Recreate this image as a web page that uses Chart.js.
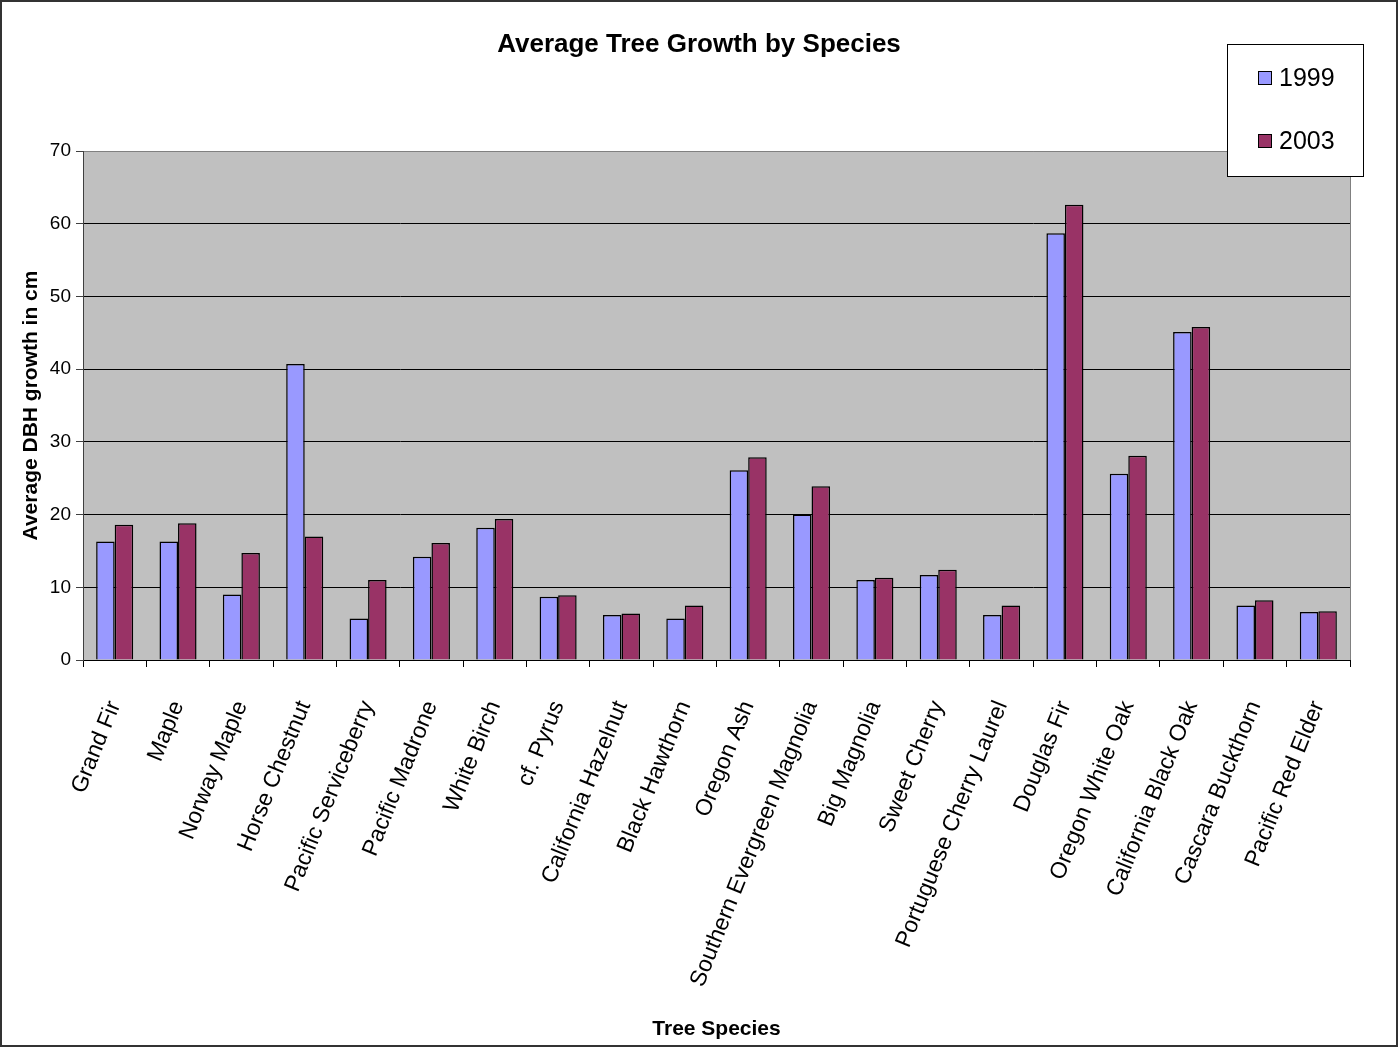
<!DOCTYPE html>
<html>
<head>
<meta charset="utf-8">
<title>Average Tree Growth by Species</title>
<script src="https://cdn.jsdelivr.net/npm/chart.js@4"></script>
<style>
    html, body { margin: 0; padding: 0; background: #fff; }
    #chart-wrap { width: 1398px; height: 1047px; }
</style>
</head>
<body>
<div id="chart-wrap">
    <canvas id="growth-chart" width="1398" height="1047"></canvas>
</div>
<script>
// Chart data
const species = [
    'Grand Fir', 'Maple', 'Norway Maple', 'Horse Chestnut', 'Pacific Serviceberry',
    'Pacific Madrone', 'White Birch', 'cf. Pyrus', 'California Hazelnut', 'Black Hawthorn',
    'Oregon Ash', 'Southern Evergreen Magnolia', 'Big Magnolia', 'Sweet Cherry',
    'Portuguese Cherry Laurel', 'Douglas Fir', 'Oregon White Oak', 'California Black Oak',
    'Cascara Buckthorn', 'Pacific Red Elder'
];
const growth1999 = [16.3, 16.3, 9.0, 40.7, 5.7, 14.2, 18.2, 8.7, 6.2, 5.7,
    26.1, 20.0, 11.0, 11.7, 6.2, 58.7, 25.6, 45.1, 7.5, 6.6];
const growth2003 = [18.6, 18.8, 14.7, 17.0, 11.0, 16.1, 19.4, 8.9, 6.4, 7.5,
    27.9, 23.9, 11.3, 12.4, 7.5, 62.6, 28.1, 45.8, 8.2, 6.7];
const seriesLabels = ['1999', '2003'];
const seriesColors = ['#9999FF', '#993366'];
const yTicks = [0, 10, 20, 30, 40, 50, 60, 70];
const chartTitle = 'Average Tree Growth by Species';

const FONT = 'Arial, "Liberation Sans", sans-serif';

// Grey plot area, outer frame and the title (centred on the whole image)
const backgroundPlugin = {
    id: 'plotBackground',
    beforeDraw(chart) {
        const { ctx, chartArea } = chart;
        ctx.save();
        ctx.fillStyle = '#fff';
        ctx.fillRect(0, 0, chart.width, chart.height);
        ctx.fillStyle = '#C0C0C0';
        ctx.fillRect(chartArea.left, chartArea.top, chartArea.right - chartArea.left, chartArea.bottom - chartArea.top);
        ctx.strokeStyle = '#808080';
        ctx.lineWidth = 1;
        ctx.beginPath();
        ctx.moveTo(chartArea.left, chartArea.top + 0.5);
        ctx.lineTo(chartArea.right + 0.5, chartArea.top + 0.5);
        ctx.lineTo(chartArea.right + 0.5, chartArea.bottom);
        ctx.stroke();
        ctx.restore();
    },
    afterDraw(chart) {
        const { ctx } = chart;
        ctx.save();
        ctx.fillStyle = '#000';
        ctx.font = 'bold 26px ' + FONT;
        ctx.textAlign = 'center';
        ctx.textBaseline = 'middle';
        ctx.fillText(chartTitle, chart.width / 2, 45);
        ctx.strokeStyle = '#333';
        ctx.lineWidth = 2;
        ctx.strokeRect(1, 1, chart.width - 2, chart.height - 2);
        ctx.restore();
    }
};

// Boxed legend sitting over the top right corner of the plot
const boxLegendPlugin = {
    id: 'boxLegend',
    afterDraw(chart) {
        const { ctx, chartArea } = chart;
        const x = chartArea.right - 123;
        const y = chartArea.top - 107;
        const w = 136, h = 132;
        ctx.save();
        ctx.fillStyle = '#fff';
        ctx.fillRect(x, y, w, h);
        ctx.strokeStyle = '#000';
        ctx.lineWidth = 1;
        ctx.strokeRect(x + 0.5, y + 0.5, w, h);
        ctx.font = '25px ' + FONT;
        ctx.textBaseline = 'middle';
        chart.data.datasets.forEach((ds, i) => {
            const cy = y + 34 + i * 63;
            ctx.fillStyle = ds.backgroundColor;
            ctx.fillRect(x + 31, cy - 7, 13, 13);
            ctx.strokeStyle = '#000';
            ctx.strokeRect(x + 31.5, cy - 6.5, 13, 13);
            ctx.fillStyle = '#000';
            ctx.fillText(ds.label, x + 52, cy + 1);
        });
        ctx.restore();
    }
};

const ctx = document.getElementById('growth-chart').getContext('2d');

const growthChart = new Chart(ctx, {
    type: 'bar',
    data: {
        labels: species,
        datasets: [growth1999, growth2003].map((values, i) => ({
            label: seriesLabels[i],
            data: values,
            backgroundColor: seriesColors[i],
            borderColor: '#000',
            borderWidth: 1.5,
            borderSkipped: 'bottom',
            categoryPercentage: 0.585,
            barPercentage: 1.0
        }))
    },
    options: {
        responsive: false,
        animation: false,
        devicePixelRatio: 1,
        layout: {
            padding: { left: 0, right: 48, top: 151, bottom: 0 }
        },
        plugins: {
            legend: { display: false },
            tooltip: { enabled: false },
            title: { display: false }
        },
        scales: {
            x: {
                offset: true,
                grid: {
                    offset: true,
                    drawOnChartArea: false,
                    drawTicks: true,
                    tickLength: 7,
                    color: '#000'
                },
                border: { color: '#000', width: 1 },
                ticks: {
                    color: '#000',
                    font: { family: FONT, size: 23 },
                    minRotation: 68,
                    maxRotation: 68,
                    autoSkip: false,
                    padding: 30
                },
                title: {
                    display: true,
                    text: 'Tree Species',
                    color: '#000',
                    font: { family: FONT, size: 21, weight: 'bold' },
                    padding: { top: 4, bottom: 5 }
                },
                afterFit(scale) { scale.height = 387; }
            },
            y: {
                min: 0,
                max: 70,
                afterBuildTicks(scale) { scale.ticks = yTicks.map(v => ({ value: v })); },
                grid: {
                    color: (c) => (c.tick && c.tick.value === 70 ? '#808080' : '#000'),
                    lineWidth: 1,
                    drawTicks: true,
                    tickLength: 7,
                    tickColor: '#404040'
                },
                border: { color: '#404040', width: 1 },
                ticks: {
                    color: '#000',
                    font: { family: FONT, size: 19 },
                    padding: 5
                },
                title: {
                    display: true,
                    text: 'Average DBH growth in cm',
                    color: '#000',
                    font: { family: FONT, size: 21, weight: 'bold' },
                    padding: { top: 19, bottom: 4 }
                },
                afterFit(scale) { scale.width = 83; }
            }
        }
    },
    plugins: [backgroundPlugin, boxLegendPlugin]
});
</script>
</body>
</html>
